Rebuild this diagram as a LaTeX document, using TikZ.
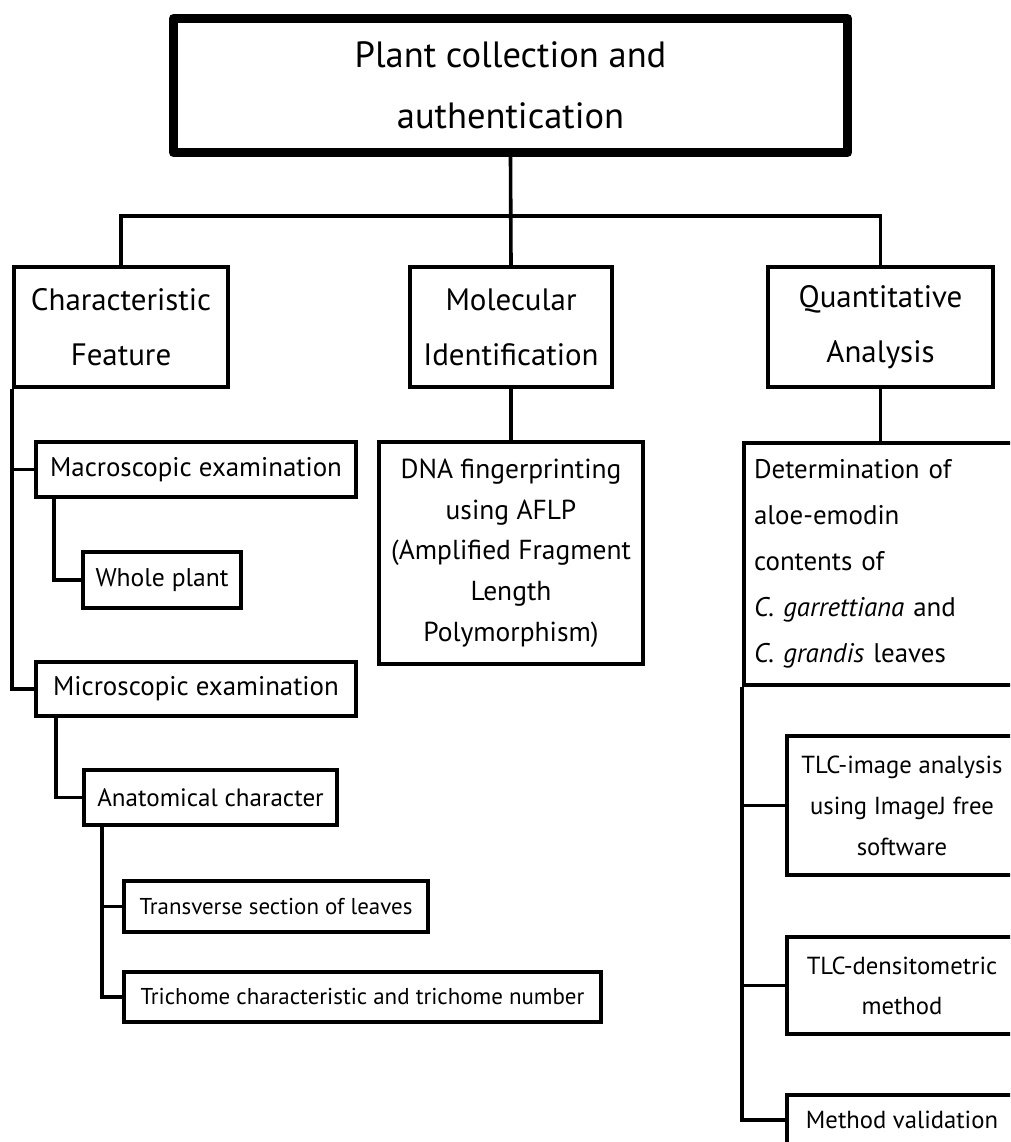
\documentclass[tikz,border=0pt]{standalone}
\usepackage{fontspec}
\setmainfont{PT Sans}
\newdimen\px \px=0.75pt
\begin{document}
\begin{tikzpicture}[x=0.75pt,y=-0.75pt,
  box/.style={draw, line width=3.6\px, rectangle, inner sep=0pt, align=center},
  conn/.style={line width=3.6\px},
  ftop/.style={font=\fontsize{27.4}{45.75}\selectfont},
  ftwo/.style={font=\fontsize{23.2}{41.25}\selectfont},
  fdna/.style={font=\fontsize{20.6}{30.5}\selectfont},
  fdet/.style={font=\fontsize{20.2}{34.5}\selectfont},
  fmac/.style={font=\fontsize{20.2}{24}\selectfont},
  fwhole/.style={font=\fontsize{19.2}{22}\selectfont},
  fanat/.style={font=\fontsize{18.8}{22}\selectfont},
  fsmall/.style={font=\fontsize{17.2}{20}\selectfont},
  ftlc/.style={font=\fontsize{18.5}{30.75}\selectfont},
]
\useasboundingbox (0,0) rectangle (1010,1142);
\clip (0,0) rectangle (1010,1142);
\fill[white] (0,0) rectangle (1010,1142);

% top
\node[box, ftop, line width=9\px, line join=round, minimum width=674\px, minimum height=134\px] (top) at (510.5,85.5) {Plant collection and\\authentication};

% level two
\node[box, ftwo, minimum width=214\px, minimum height=120\px] (char) at (121,327) {Characteristic\\Feature};
\node[box, ftwo, minimum width=202\px, minimum height=120\px] (mol) at (511,327) {Molecular\\Identification};
\node[box, ftwo, minimum width=225\px, minimum height=120\px] (quant) at (880.5,327) {Quantitative\\Analysis};

\coordinate (bar) at (511,216);
\draw[conn] (top.south) -- (mol.north);
\draw[conn] (char.north) |- (bar) -| (quant.north);

% middle branch
\node[box, fdna, minimum width=264\px, minimum height=222\px] (dna) at (511,553) {DNA fingerprinting\\using AFLP\\(Amplified Fragment\\Length\\Polymorphism)};
\draw[conn] (mol.south) -- (dna.north);

% left branch
\node[box, fmac, minimum width=320\px, minimum height=55\px] (macro) at (196,469.5) {Macroscopic examination};
\node[box, fwhole, minimum width=158\px, minimum height=56\px] (whole) at (162,580) {Whole plant};
\node[box, fmac, minimum width=320\px, minimum height=54\px] (micro) at (196,689) {Microscopic examination};
\node[box, fanat, minimum width=253\px, minimum height=55\px] (anat) at (210.5,797.5) {Anatomical character};
\node[box, fsmall, minimum width=304\px, minimum height=51\px] (trans) at (276,906.5) {Transverse section of leaves};
\node[box, fsmall, minimum width=477\px, minimum height=50\px] (trich) at (362.5,997) {Trichome characteristic and trichome number};

\draw[conn] (char.south west) |- (micro.west);
\draw[conn] (char.south west |- macro.west) -- (macro.west);
\draw[conn] ([xshift=20\px]macro.south west) |- (whole.west);
\draw[conn] ([xshift=22\px]micro.south west) |- (anat.west);
\draw[conn] ([xshift=20\px]anat.south west) |- (trans.west);
\draw[conn] ([xshift=20\px]anat.south west) |- (trich.west);

% right branch
\node[box, fdet, align=left, text width=199.5pt, inner xsep=7.5pt, minimum height=242\px] (det) at (887,564) {Determination of\\aloe-emodin\\contents of\\\textit{C. garrettiana} and\\\textit{C. grandis} leaves};
\draw[conn] (quant.south) -- (quant.south |- det.north);

\node[box, ftlc, minimum width=230\px, minimum height=139\px] (tlca) at (902,805.5) {TLC-image analysis\\using ImageJ free\\software};
\node[box, font=\fontsize{18.5}{30}\selectfont, minimum width=230\px, minimum height=97\px] (tlcb) at (902,985.5) {TLC-densitometric\\method};
\node[box, ftlc, minimum width=230\px, minimum height=50\px] (meth) at (902,1120) {Method validation};

\draw[conn] (det.south west) |- (meth.west);
\draw[conn] (det.south west |- tlca.west) -- (tlca.west);
\draw[conn] (det.south west |- tlcb.west) -- (tlcb.west);
\end{tikzpicture}
\end{document}
